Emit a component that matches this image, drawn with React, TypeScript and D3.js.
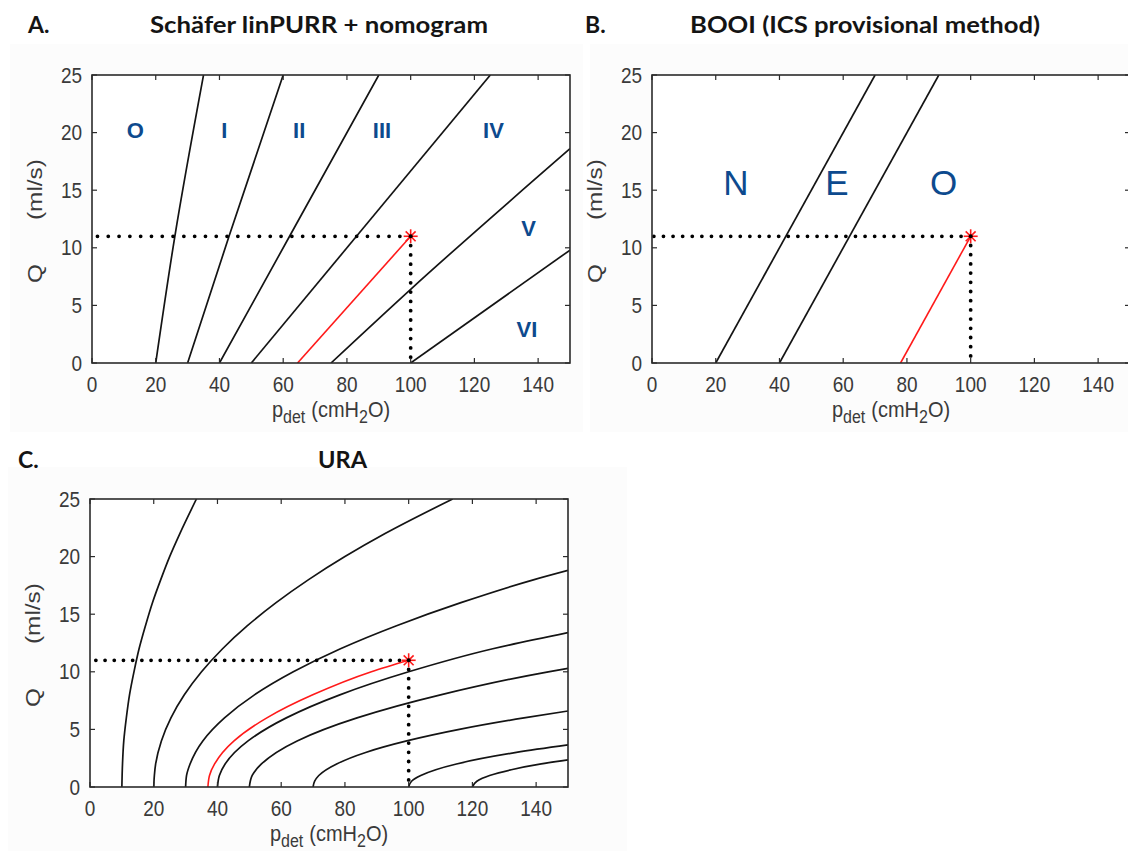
import React from "react";
import * as d3 from "d3";

const W = 1128;
const H = 851;

// ---------- shared axes ----------
const xTickValues = [0, 20, 40, 60, 80, 100, 120, 140];
const yTickValues = [0, 5, 10, 15, 20, 25];
const xDomain = [0, 150];
const yDomain = [0, 25];

// patient measurement (pdet, Q)
const patientPoint = [100, 11];

// ---------- A. Schäfer linPURR + nomogram ----------
const schaferLine0I = [[20, 0], [26, 11], [35, 25]];
const schaferLineIII = [[30, 0], [43, 11], [60, 25]];
const schaferLineIIIII = [[40, 0], [62, 11], [90, 25]];
const schaferLineIIIIV = [[50, 0], [83, 11], [125, 25]];
const schaferLineIVV = [[75, 0], [100, 6.4], [150, 18.6]];
const schaferLineVVI = [[100, 0], [150, 9.8]];
const schaferPatient = [[64.5, 0], [100, 11]];
const schaferGrades = ["O", "I", "II", "III", "IV", "V", "VI"];
const schaferGradePos = [[13.6, 20.2], [41.5, 20.2], [65, 20.2], [91, 20.2], [126, 20.2], [137, 11.7], [136.5, 2.9]];

// ---------- B. BOOI ----------
const booiLineNE = [[20, 0], [70, 25]];
const booiLineEO = [[40, 0], [90, 25]];
const booiPatient = [[78, 0], [100, 11]];
const booiClasses = ["N", "E", "O"];
const booiClassPos = [[26.3, 15.7], [58, 15.7], [91.5, 15.7]];

// ---------- C. URA ----------
const ura10 = [[10, 0], [10.2, 2], [10.6, 4], [11.4, 6], [12.4, 8], [13.8, 10], [15.4, 12], [17.4, 14], [19.6, 16], [22.2, 18], [25, 20], [28.2, 22], [33.4, 25]];
const ura20 = [[20, 0], [20.2, 1], [20.6, 2], [22.4, 4], [25.4, 6], [29.6, 8], [35, 10], [41.6, 12], [49.4, 14], [58.4, 16], [68.6, 18], [80, 20], [92.6, 22], [113.8, 25]];
const ura30 = [[30, 0], [30.3, 1], [31.4, 2], [35.4, 4], [42.2, 6], [51.6, 8], [63.8, 10], [78.6, 12], [96.2, 14], [116.4, 16], [139.4, 18], [150, 18.8]];
const ura40 = [[40, 0], [40.6, 1], [42.4, 2], [49.6, 4], [61.6, 6], [78.4, 8], [100, 10], [126.4, 12], [150, 13.4]];
const ura50 = [[50, 0], [50.9, 1], [53.8, 2], [65, 4], [83.8, 6], [110, 8], [143.8, 10], [150, 10.3]];
const ura70 = [[70, 0], [70.5, 0.5], [71.8, 1], [77.4, 2], [86.5, 3], [99.4, 4], [115.9, 5], [136.2, 6], [150, 6.6]];
const ura100 = [[100, 0], [100.9, 0.5], [103.8, 1], [115, 2], [133.8, 3], [150, 3.65]];
const ura120 = [[120, 0], [121.4, 0.5], [125.4, 1], [132.2, 1.5], [141.6, 2], [150, 2.35]];
const uraPatient = [[37, 0], [37.5, 1], [39.1, 2], [45.2, 4], [55.5, 6], [69.9, 8], [88.3, 10], [100, 11]];

const schaferLines = [schaferLine0I, schaferLineIII, schaferLineIIIII, schaferLineIIIIV, schaferLineIVV, schaferLineVVI];
const booiLines = [booiLineNE, booiLineEO];
const uraCurves = [ura10, ura20, ura30, ura40, ura50, ura70, ura100, ura120];

const FONT = "'Liberation Sans', Arial, Helvetica, sans-serif";
const TITLE_FONT = "Lato, 'Open Sans', sans-serif";
const LABEL_BLUE = "#0d4a8e";
const AXIS = "#2b2b2b";
const TICK_TXT = "#3a3a3a";
const STRETCH = 1.12;

type Pt = number[];

function Panel(props: {
  id: string;
  left: number;
  top: number;
  width: number;
  height: number;
  lines: Pt[][];
  curved: boolean;
  patient: Pt[];
  labels: string[];
  labelPos: Pt[];
  labelSize: number;
  labelWeight: string;
  hDot: number;
  vDot: number;
}) {
  const { id, left, top, width, height } = props;
  const x = d3.scaleLinear().domain(xDomain).range([left, left + width]);
  const y = d3.scaleLinear().domain(yDomain).range([top + height, top]);
  const line = d3
    .line<Pt>()
    .x((d) => x(d[0]))
    .y((d) => y(d[1]))
    .curve(props.curved ? d3.curveMonotoneY : d3.curveLinear);
  const px = x(patientPoint[0]);
  const py = y(patientPoint[1]);
  const tick = 5;
  const starR = 7;
  const bottom = top + height;
  const right = left + width;
  const ylabCx = left - 57;
  const ylabCy = top + height / 2 + 2;
  const xlabCx = left + width / 2;
  return (
    <g>
      <defs>
        <clipPath id={"clip-" + id}>
          <rect x={left} y={top} width={width} height={height} />
        </clipPath>
      </defs>
      <rect x={left} y={top} width={width} height={height} fill="#fff" />
      <g clipPath={`url(#clip-${id})`}>
        {props.lines.map((l, i) => (
          <path key={i} d={line(l) || ""} fill="none" stroke="#141414" strokeWidth={1.7} />
        ))}
        <path d={line(props.patient) || ""} fill="none" stroke="#ff1a1a" strokeWidth={1.6} />
      </g>
      {/* dotted guides, pattern anchored at the patient point */}
      <line x1={px} y1={py} x2={x(0)} y2={py} stroke="#000" strokeWidth={3.8} strokeLinecap="round" strokeDasharray={`0 ${props.hDot}`} />
      <line x1={px} y1={py} x2={px} y2={y(0)} stroke="#000" strokeWidth={3.8} strokeLinecap="round" strokeDasharray={`0 ${props.vDot}`} />
      {/* star marker */}
      <g stroke="#ff1a1a" strokeWidth={1.6}>
        {[0, 45, 90, 135].map((a) => (
          <line
            key={a}
            x1={px - starR * Math.cos((a * Math.PI) / 180)}
            y1={py - starR * Math.sin((a * Math.PI) / 180)}
            x2={px + starR * Math.cos((a * Math.PI) / 180)}
            y2={py + starR * Math.sin((a * Math.PI) / 180)}
          />
        ))}
      </g>
      <circle cx={px} cy={py} r={2} fill="#000" />
      {/* region labels */}
      {props.labels.map((t, i) => (
        <text
          key={t + i}
          x={x(props.labelPos[i][0])}
          y={y(props.labelPos[i][1])}
          textAnchor="middle"
          dominantBaseline="central"
          fontFamily={FONT}
          fontSize={props.labelSize}
          fontWeight={props.labelWeight}
          fill={LABEL_BLUE}
        >
          {t}
        </text>
      ))}
      {/* axes box */}
      <rect x={left} y={top} width={width} height={height} fill="none" stroke={AXIS} strokeWidth={1.6} />
      {xTickValues.map((v) => (
        <g key={"xt" + v}>
          <line x1={x(v)} x2={x(v)} y1={bottom} y2={bottom - tick} stroke={AXIS} strokeWidth={1.2} />
          <line x1={x(v)} x2={x(v)} y1={top} y2={top + tick} stroke={AXIS} strokeWidth={1.2} />
          <text
            transform={`translate(${x(v)},${bottom + 29}) scale(1,${STRETCH})`}
            textAnchor="middle"
            fontFamily={FONT}
            fontSize={19}
            fill={TICK_TXT}
          >
            {v}
          </text>
        </g>
      ))}
      {yTickValues.map((v) => (
        <g key={"yt" + v}>
          <line x1={left} x2={left + tick} y1={y(v)} y2={y(v)} stroke={AXIS} strokeWidth={1.2} />
          <line x1={right} x2={right - tick} y1={y(v)} y2={y(v)} stroke={AXIS} strokeWidth={1.2} />
          <text
            transform={`translate(${left - 10},${y(v) + 7.5}) scale(1,${STRETCH})`}
            textAnchor="end"
            fontFamily={FONT}
            fontSize={19}
            fill={TICK_TXT}
          >
            {v}
          </text>
        </g>
      ))}
      {/* axis labels */}
      <text
        transform={`translate(${xlabCx},${bottom + 54}) scale(1,${STRETCH})`}
        textAnchor="middle"
        fontFamily={FONT}
        fontSize={20}
        fill={TICK_TXT}
      >
        <tspan>p</tspan>
        <tspan fontSize={16} dy={5}>det</tspan>
        <tspan dy={-5} dx={6}>(cmH</tspan>
        <tspan fontSize={16} dy={5}>2</tspan>
        <tspan dy={-5}>O)</tspan>
      </text>
      <text
        transform={`translate(${ylabCx},${ylabCy}) rotate(-90) scale(1.22,1)`}
        textAnchor="middle"
        dominantBaseline="central"
        fontFamily={FONT}
        fontSize={20}
        fill={TICK_TXT}
      >
        <tspan>Q</tspan>
        <tspan dx={36}>(ml/s)</tspan>
      </text>
    </g>
  );
}

function Title(props: { x: number; y: number; text: string; width?: number; anchor?: string }) {
  return (
    <text
      x={props.x}
      y={props.y}
      textAnchor={props.anchor || "start"}
      fontFamily={TITLE_FONT}
      fontWeight="bold"
      fontSize={23}
      fill="#141414"
      textLength={props.width}
      lengthAdjust={props.width ? "spacingAndGlyphs" : undefined}
    >
      {props.text}
    </text>
  );
}

export default function App() {
  return (
    <svg
      width={W}
      height={H}
      viewBox={`0 0 ${W} ${H}`}
      style={{ position: "absolute", left: 0, top: 0, background: "#fff" }}
    >
      <rect x={0} y={0} width={W} height={H} fill="#fff" />
      {/* faint figure backgrounds */}
      <rect x={10} y={44} width={573} height={388} fill="#fcfcfc" />
      <rect x={590} y={44} width={538} height={388} fill="#fcfcfc" />
      <rect x={8} y={467} width={619} height={384} fill="#fcfcfc" />

      <Title x={28} y={33} text="A." />
      <Title x={150} y={33} text="Schäfer linPURR + nomogram" width={338} />
      <Title x={585} y={33} text="B." />
      <Title x={690} y={33} text="BOOI (ICS provisional method)" width={350} />
      <Title x={18} y={468} text="C." />
      <Title x={318} y={468} text="URA" width={49} />

      <Panel
        id="a"
        left={92}
        top={75}
        width={478}
        height={288}
        lines={schaferLines}
        curved={true}
        patient={schaferPatient}
        labels={schaferGrades}
        labelPos={schaferGradePos}
        labelSize={22}
        labelWeight="bold"
        hDot={10.8}
        vDot={9.3}
      />
      <Panel
        id="b"
        left={652}
        top={75}
        width={478}
        height={288}
        lines={booiLines}
        curved={false}
        patient={booiPatient}
        labels={booiClasses}
        labelPos={booiClassPos}
        labelSize={35}
        labelWeight="normal"
        hDot={9.6}
        vDot={9.2}
      />
      <Panel
        id="c"
        left={90}
        top={499}
        width={478}
        height={288}
        lines={uraCurves}
        curved={true}
        patient={uraPatient}
        labels={[]}
        labelPos={[]}
        labelSize={20}
        labelWeight="normal"
        hDot={9.2}
        vDot={9.2}
      />
    </svg>
  );
}
